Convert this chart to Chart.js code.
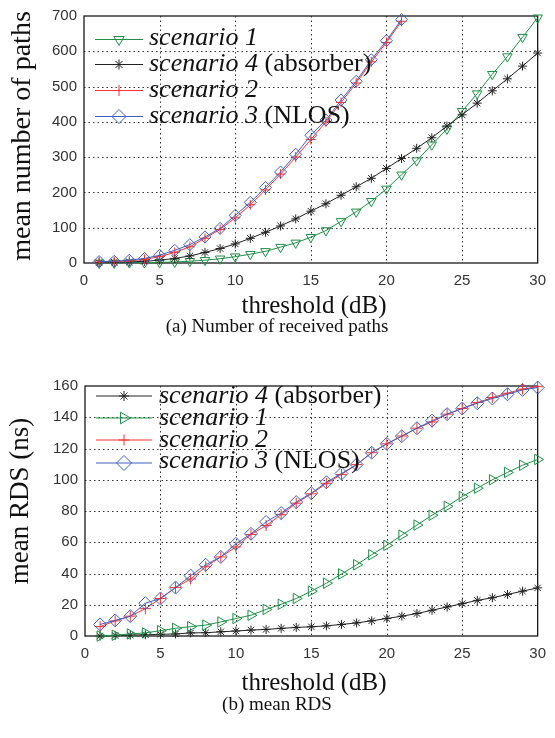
<!DOCTYPE html>
<html><head><meta charset="utf-8">
<script src="https://cdn.jsdelivr.net/npm/chart.js@4/dist/chart.umd.min.js"></script>
<style>
html,body{margin:0;padding:0;background:#fff;}
#wrap{position:relative;width:555px;height:738px;overflow:hidden;background:#fff;}
#c1{position:absolute;left:0;top:0;width:555px;height:300px;}
#c2{position:absolute;left:0;top:370px;width:555px;height:300px;}
#ov{position:absolute;left:0;top:0;pointer-events:none;}
</style></head><body>
<div id="wrap">
<canvas id="c1" width="555" height="300"></canvas>
<canvas id="c2" width="555" height="300"></canvas>
<svg id="ov" width="555" height="738" xmlns="http://www.w3.org/2000/svg" font-family="'Liberation Serif','Times New Roman',serif" fill="#111">
  <!-- top chart titles -->
  <text transform="translate(30,136) rotate(-90)" text-anchor="middle" font-size="28">mean number of paths</text>
  <text x="314" y="313" text-anchor="middle" font-size="25">threshold (dB)</text>
  <text x="277" y="332" text-anchor="middle" font-size="19">(a) Number of received paths</text>
  <!-- top legend -->
  <g fill="none" stroke-width="1">
    <line x1="95" y1="39.5" x2="143" y2="39.5" stroke="#1f8f45"/>
    <polygon points="119,45.5 113.8,36.5 124.2,36.5" stroke="#1f8f45"/>
    <line x1="95" y1="64.5" x2="143" y2="64.5" stroke="#222"/>
    <path d="M119,59.5V69.5M114,64.5H124M115.5,61L122.5,68M115.5,68L122.5,61" stroke="#222"/>
    <line x1="95" y1="90.5" x2="143" y2="90.5" stroke="#ff3030"/>
    <path d="M119,85V96M113.5,90.5H124.5" stroke="#ff3030"/>
    <line x1="95" y1="116.5" x2="143" y2="116.5" stroke="#3f5fc0"/>
    <polygon points="119,109.5 126,116.5 119,123.5 112,116.5" stroke="#3f5fc0"/>
  </g>
  <g font-size="26">
    <text x="149" y="45"><tspan font-style="italic">scenario 1</tspan></text>
    <text x="149" y="71"><tspan font-style="italic">scenario 4</tspan> (absorber)</text>
    <text x="149" y="97"><tspan font-style="italic">scenario 2</tspan></text>
    <text x="149" y="123"><tspan font-style="italic">scenario 3</tspan> (NLOS)</text>
  </g>
  <!-- bottom chart titles -->
  <text transform="translate(28,501) rotate(-90)" text-anchor="middle" font-size="27">mean RDS (ns)</text>
  <text x="314" y="690" text-anchor="middle" font-size="25">threshold (dB)</text>
  <text x="277" y="710" text-anchor="middle" font-size="19">(b) mean RDS</text>
  <!-- bottom legend -->
  <g fill="none" stroke-width="1">
    <line x1="96" y1="396" x2="152" y2="396" stroke="#222"/>
    <path d="M124,391V401M119,396H129M120.5,392.5L127.5,399.5M120.5,399.5L127.5,392.5" stroke="#222"/>
    <line x1="96" y1="418" x2="152" y2="418" stroke="#1f8f45"/>
    <polygon points="130.5,418 120.5,412.2 120.5,423.8" stroke="#1f8f45"/>
    <line x1="96" y1="440" x2="152" y2="440" stroke="#ff3030"/>
    <path d="M124,434.5V445.5M118.5,440H129.5" stroke="#ff3030"/>
    <line x1="96" y1="463" x2="152" y2="463" stroke="#3f5fc0"/>
    <polygon points="124,455.5 131.5,463 124,470.5 116.5,463" stroke="#3f5fc0"/>
  </g>
  <g font-size="26">
    <text x="159" y="403"><tspan font-style="italic">scenario 4</tspan> (absorber)</text>
    <text x="159" y="425"><tspan font-style="italic">scenario 1</tspan></text>
    <text x="159" y="447"><tspan font-style="italic">scenario 2</tspan></text>
    <text x="159" y="468"><tspan font-style="italic">scenario 3</tspan> (NLOS)</text>
  </g>
</svg>
</div>
<script>
// ---------- data ----------
const thresholds = [1,2,3,4,5,6,7,8,9,10,11,12,13,14,15,16,17,18,19,20,21,22,23,24,25,26,27,28,29,30];
const xTicks = [0,5,10,15,20,25,30];
const pathsTicks = [0,100,200,300,400,500,600,700];
const rdsTicks = [0,20,40,60,80,100,120,140,160];

// (a) mean number of paths
const paths_s1 = [0,0,1,1,2,3,5,8,12,18,25,33,45,57,73,92,118,145,175,210,250,290,335,380,430,480,535,585,640,695];
const paths_s4 = [1,2,3,5,8,13,20,30,41,54,70,87,105,125,147,168,192,216,240,268,296,325,355,388,420,453,488,522,558,595];
const paths_s2 = [3,4,6,10,18,30,46,70,95,128,165,207,252,300,350,400,455,510,570,625,685];
const paths_s3 = [4,5,8,13,22,36,52,74,98,135,172,214,258,308,362,405,462,515,576,630,690];

// (b) mean RDS (ns)
const rds_s4 = [0,0.4,0.6,0.8,1.1,1.3,2,2.1,2.7,3.2,3.8,4.2,4.9,5.5,5.9,6.5,7.4,8.4,9.7,11.2,12.7,14.4,16.5,18.6,20.7,22.8,24.5,26.6,28.7,30.8];
const rds_s1 = [0,0.5,1.3,2,3.4,4.9,6,7,9,11.2,13.3,17,20.3,24,28.7,33.8,39.7,45.6,52,58,64.6,71,77.3,83,89.3,94.6,100,104.7,109.3,113];
const rds_s2 = [6,9.7,12.7,17.5,24,31,36.5,44.3,50.6,57,65,70.7,77.7,85,91,97.7,103.4,109.7,117.3,123,128,133,137,142,145.6,149.4,152.6,155.4,158,159.6];
const rds_s3 = [7.4,10,12.7,21,24,31,38.6,45.6,50.6,59,65.4,73,78.7,85.7,91.4,98.4,104,109.7,117.3,123,127.9,133,137.8,142,145.6,149,152,154.7,157.5,159];

// ---------- helpers ----------
const GREEN = '#1f8f45', BLACK = '#222222', RED = '#ff3030', BLUE = '#3f5fc0';
function pts(ys){ return ys.map((y,i)=>({x:thresholds[i], y:y})); }
function ds(label, ys, color, style, radius, rot, order){
  return {label, data: pts(ys), borderColor: color, borderWidth: 1, backgroundColor: 'rgba(0,0,0,0)',
    pointStyle: style, pointRadius: radius, pointRotation: rot, pointBorderColor: color,
    pointBackgroundColor: 'rgba(0,0,0,0)', pointBorderWidth: 1, tension: 0, order: order, clip: 10};
}
// dotted grid + full axes box, positioned through the chart's own scales
const boxPlugin = {
  id: 'box',
  beforeDatasetsDraw(chart){
    const {ctx, chartArea:a, scales} = chart;
    ctx.save();
    ctx.strokeStyle = '#333'; ctx.lineWidth = 1; ctx.setLineDash([1.5,3]);
    xTicks.forEach(v => {
      const px = Math.round(scales.x.getPixelForValue(v)) + 0.5;
      if (px <= a.left + 1 || px >= a.right - 1) return;
      ctx.beginPath(); ctx.moveTo(px, a.top); ctx.lineTo(px, a.bottom); ctx.stroke();
    });
    const yv = chart.canvas.id === 'c1' ? pathsTicks : rdsTicks;
    yv.forEach(v => {
      const py = Math.round(scales.y.getPixelForValue(v)) + 0.5;
      if (py <= a.top + 1 || py >= a.bottom - 1) return;
      ctx.beginPath(); ctx.moveTo(a.left, py); ctx.lineTo(a.right, py); ctx.stroke();
    });
    ctx.setLineDash([]);
    ctx.strokeStyle = '#1a1a1a'; ctx.lineWidth = 1.3;
    ctx.strokeRect(a.left, a.top, a.right - a.left, a.bottom - a.top);
    ctx.restore();
  }
};
function makeOpts(yTicks, yWidth, xHeight, padRight){
  const tickFont = {family: "'Liberation Sans', Arial, sans-serif", size: 15};
  return {
    responsive: false, animation: false, devicePixelRatio: 1,
    layout: {padding: {left: 0, right: padRight, top: 13, bottom: 0}},
    plugins: {legend: {display: false}, tooltip: {enabled: false}, title: {display: false}},
    scales: {
      x: {type: 'linear', min: xTicks[0], max: xTicks[xTicks.length-1],
        afterBuildTicks: s => { s.ticks = xTicks.map(v => ({value: v})); },
        ticks: {font: tickFont, color: '#333', padding: 9, maxRotation: 0, autoSkip: false},
        grid: {drawOnChartArea: false, drawTicks: false},
        border: {display: false},
        afterFit: s => { s.height = xHeight; }
      },
      y: {type: 'linear', min: yTicks[0], max: yTicks[yTicks.length-1],
        afterBuildTicks: s => { s.ticks = yTicks.map(v => ({value: v})); },
        ticks: {font: tickFont, color: '#333', padding: 7, autoSkip: false},
        grid: {drawOnChartArea: false, drawTicks: false},
        border: {display: false},
        afterFit: s => { s.width = yWidth; }
      }
    }
  };
}

new Chart(document.getElementById('c1'), {
  type: 'line',
  data: {datasets: [
    ds('scenario 1', paths_s1, GREEN, 'triangle', 5.5, 180, 3),
    ds('scenario 4 (absorber)', paths_s4, BLACK, 'star', 4.5, 0, 2),
    ds('scenario 2', paths_s2, RED, 'cross', 5, 0, 1),
    ds('scenario 3 (NLOS)', paths_s3, BLUE, 'rectRot', 6, 0, 0)
  ]},
  options: makeOpts(pathsTicks, 84, 37, 10),
  plugins: [boxPlugin]
});

new Chart(document.getElementById('c2'), {
  type: 'line',
  data: {datasets: [
    ds('scenario 4 (absorber)', rds_s4, BLACK, 'star', 4.5, 0, 3),
    ds('scenario 1', rds_s1, GREEN, 'triangle', 6, 90, 2),
    ds('scenario 2', rds_s2, RED, 'cross', 5.5, 0, 1),
    ds('scenario 3 (NLOS)', rds_s3, BLUE, 'rectRot', 6.5, 0, 0)
  ]},
  options: makeOpts(rdsTicks, 85, 34, 8),
  plugins: [boxPlugin]
});
</script>
</body></html>
